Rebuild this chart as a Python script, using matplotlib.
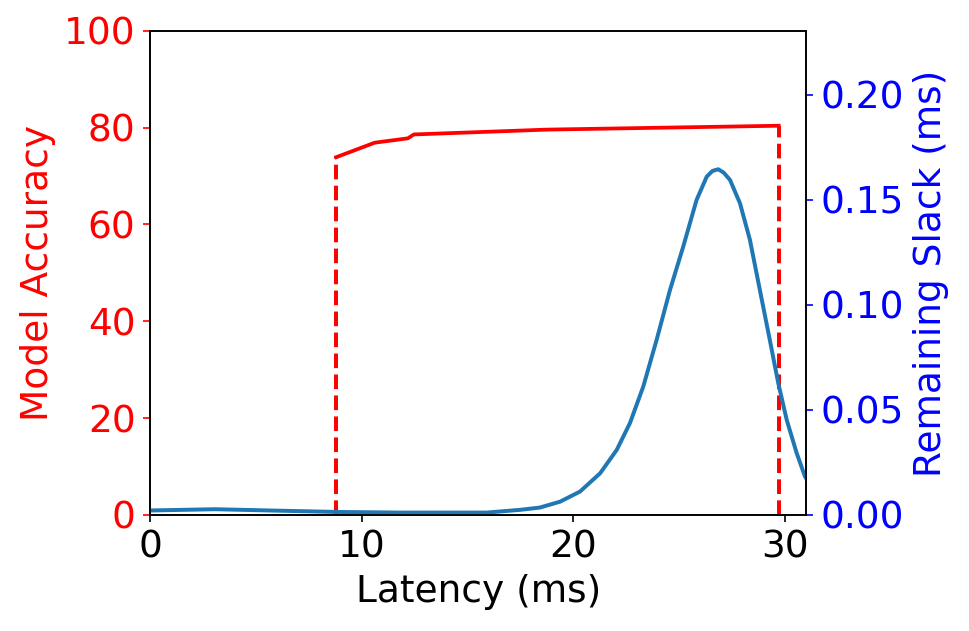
import matplotlib
matplotlib.use("Agg")
import matplotlib.pyplot as plt

# accuracy curve (left axis)
acc_latency = [8.79, 10.61, 12.18, 12.46, 18.75, 29.70]
acc_values = [73.9, 76.9, 77.8, 78.6, 79.6, 80.4]

# remaining slack curve (right axis)
slack_latency = [0.0, 1.54, 3.08, 5.64, 8.82, 11.8, 15.9, 17.48, 18.42, 19.37,
                 20.31, 21.26, 22.05, 22.67, 23.3, 23.93, 24.56, 25.19, 25.82,
                 26.3, 26.57, 26.84, 27.1, 27.4, 27.87, 28.34, 28.81, 29.28,
                 29.68, 30.08, 30.55, 30.94, 31.0]
slack_values = [0.0021, 0.0024, 0.0027, 0.0021, 0.0014, 0.0011, 0.0011, 0.0024,
                0.0035, 0.0063, 0.0111, 0.0198, 0.031, 0.0437, 0.0611, 0.0833,
                0.107, 0.1278, 0.150, 0.1611, 0.1638, 0.1646, 0.1630, 0.1595,
                0.1484, 0.131, 0.1071, 0.0833, 0.0627, 0.0452, 0.0294, 0.0183,
                0.0174]

plt.rcParams["font.size"] = 18

fig = plt.figure(figsize=(6.46, 4.207), dpi=150)
ax = fig.add_axes([0.155, 0.184, 0.677, 0.767])

ax.plot(acc_latency, acc_values, color="red", linewidth=1.8)
for x, y in [(acc_latency[0], acc_values[0]), (acc_latency[-1], acc_values[-1])]:
    ax.plot([x, x], [0, y], color="red", linestyle="--", linewidth=1.9)

ax.set_xlim(0, 31)
ax.set_ylim(0, 100)
ax.set_xlabel("Latency (ms)")
ax.set_ylabel("Model Accuracy", color="red")
ax.tick_params(axis="y", colors="red")

ax2 = ax.twinx()
ax2.plot(slack_latency, slack_values, color="#1f77b4", linewidth=1.9)
ax2.set_ylim(0, 0.2305)
ax2.set_yticks([0.0, 0.05, 0.10, 0.15, 0.20])
ax2.set_yticklabels(["0.00", "0.05", "0.10", "0.15", "0.20"])
ax2.set_ylabel("Remaining Slack (ms)", color="blue")
ax2.tick_params(axis="y", colors="blue")

fig.savefig("out.png", dpi=150)
